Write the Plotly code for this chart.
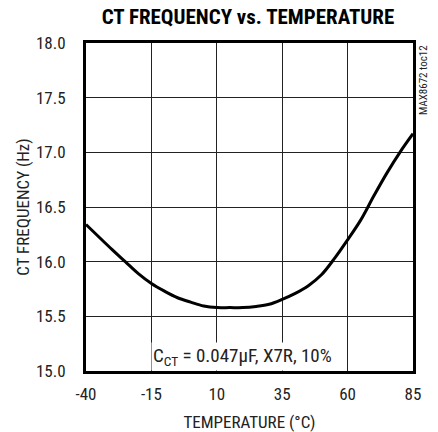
import plotly.graph_objects as go

temperature = [-40, -30, -25, -20, -15, -10, -5, 0, 5, 10, 15, 20, 25, 30, 35, 40, 45, 50, 55, 60, 65, 70, 75, 80, 85]
frequency = [16.34, 16.11, 16.00, 15.89, 15.80, 15.73, 15.67, 15.63, 15.595, 15.58, 15.58, 15.58, 15.59, 15.61, 15.655, 15.71, 15.78, 15.88, 16.03, 16.20, 16.38, 16.60, 16.81, 17.00, 17.17]

x_ticks = [-40, -15, 10, 35, 60, 85]
x_tick_text = ["-40", "-15", "10", "35", "60", "85"]
y_ticks = [15.0, 15.5, 16.0, 16.5, 17.0, 17.5, 18.0]
y_tick_text = ["15.0", "15.5", "16.0", "16.5", "17.0", "17.5", "18.0"]

NARROW = "Liberation Sans Narrow, Arial Narrow, Roboto Condensed, Roboto, sans-serif"

fig = go.Figure()
fig.add_trace(go.Scatter(x=temperature, y=frequency, mode="lines",
                         line=dict(color="black", width=3, shape="spline"),
                         showlegend=False, hoverinfo="skip"))

# page body has an 8px default margin, so the figure is sized 8px smaller
fig.update_layout(
    width=430, height=424,
    margin=dict(l=78, r=25, t=35, b=61, autoexpand=False),
    paper_bgcolor="white", plot_bgcolor="white",
    title=dict(text="<b>CT FREQUENCY vs. TEMPERATURE</b>", x=0.558, xanchor="center",
               y=0.979, yanchor="middle",
               font=dict(family=NARROW, size=21, color="black")),
    font=dict(family=NARROW, color="#222"),
)
fig.update_xaxes(range=[-40, 85], tickvals=x_ticks, ticktext=x_tick_text,
                 showgrid=True, gridcolor="#222", gridwidth=1,
                 showline=True, linecolor="black", linewidth=3, mirror=True,
                 zeroline=False, ticks="", ticklabelstandoff=6, automargin=False,
                 tickfont=dict(family=NARROW, size=17, color="#222"),
                 title=dict(text="TEMPERATURE (°C)", standoff=14,
                            font=dict(family=NARROW, size=17, color="#222")))
fig.update_yaxes(range=[15, 18], tickvals=y_ticks, ticktext=y_tick_text,
                 showgrid=True, gridcolor="#222", gridwidth=1,
                 showline=True, linecolor="black", linewidth=3, mirror=True,
                 zeroline=False, ticks="", ticklabelstandoff=14, automargin=False,
                 tickfont=dict(family=NARROW, size=17, color="#222"),
                 title=dict(text="CT FREQUENCY (Hz)", standoff=2,
                            font=dict(family=NARROW, size=17, color="#222")))

fig.add_annotation(x=20, y=15.13, xref="x", yref="y",
                   text="C<sub>CT</sub> = 0.047μF, X7R, 10%", showarrow=False,
                   bgcolor="white", borderpad=1,
                   font=dict(family=NARROW, size=19, color="#222"))
fig.add_annotation(x=1.0, y=1.0, xref="paper", yref="paper", xshift=10,
                   xanchor="center", yanchor="top", textangle=-90,
                   text="MAX8672 toc12", showarrow=False,
                   font=dict(family=NARROW, size=11, color="#222"))

fig.write_html("out.html")
